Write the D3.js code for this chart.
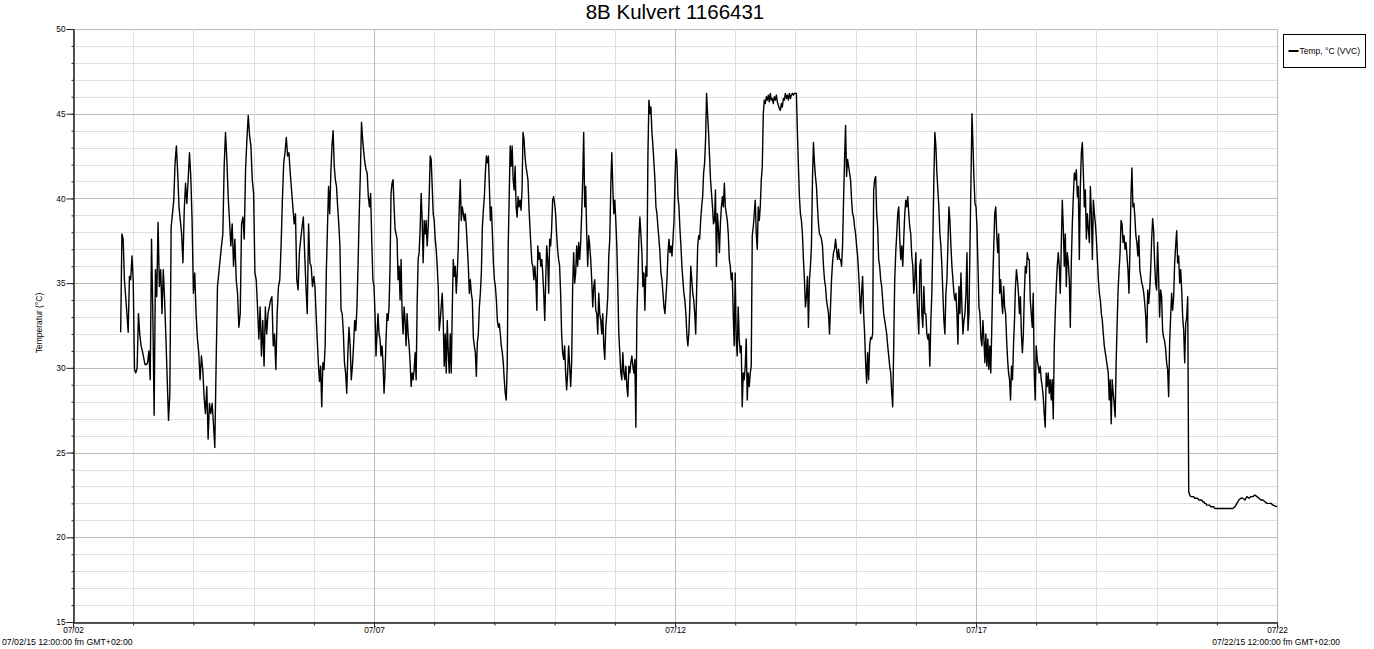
<!DOCTYPE html>
<html>
<head>
<meta charset="utf-8">
<script src="https://cdn.jsdelivr.net/npm/d3@7"></script>
<style>
  body { margin: 0; background: #fff; }
  svg { display: block; }
</style>
</head>
<body>
<div id="chart"></div>
<script>
// readings per day, spread evenly over each day (07/02 starts in the evening)
var startHour = 19;
var jul02 = [32.1, 37.9, 37.6, 35.2, 34.2, 33.2, 32.1, 35.4, 35.2, 36.6];
var jul03 = [35.2, 29.9, 29.7, 30.0, 33.2, 32.0, 31.3, 31.0, 30.6, 30.2, 30.2, 30.3, 31.0, 29.3, 37.6, 33.2, 27.2, 35.8, 34.2, 38.6, 34.8, 35.8, 33.2, 35.8, 34.0, 31.8, 29.3, 26.9, 28.5, 38.3, 39.1, 39.9, 42.1, 43.1, 41.5, 39.5, 38.7, 37.9, 36.2, 39.3, 40.9, 39.7, 41.1, 42.7, 41.3, 38.7];
var jul04 = [34.4, 35.6, 33.2, 31.7, 30.9, 29.3, 30.7, 29.9, 28.3, 27.3, 28.9, 25.8, 27.9, 27.3, 27.9, 26.7, 25.3, 30.3, 34.8, 35.6, 36.4, 37.2, 37.9, 41.9, 43.9, 42.3, 40.1, 38.7, 37.2, 38.5, 36.0, 37.6, 35.2, 34.4, 32.4, 33.2, 38.5, 38.9, 37.6, 41.7, 43.5, 44.9, 43.7, 43.1, 41.1];
var jul05 = [40.3, 35.6, 35.2, 33.6, 31.7, 33.6, 30.7, 32.8, 30.1, 33.6, 32.0, 33.2, 33.6, 34.0, 34.2, 31.3, 32.0, 29.9, 33.2, 34.8, 35.2, 37.2, 39.9, 42.1, 42.7, 43.6, 42.5, 42.7, 41.5, 40.5, 39.5, 38.5, 39.1, 35.2, 34.6, 36.8, 37.6, 38.3, 38.9, 36.8, 34.8, 33.2, 38.5, 36.2, 36.0, 34.8];
var jul06 = [35.4, 34.8, 33.2, 31.7, 30.3, 29.2, 30.1, 27.7, 30.3, 29.9, 31.3, 35.6, 38.2, 40.7, 39.1, 41.5, 43.1, 44.0, 41.9, 41.1, 40.7, 39.5, 38.5, 37.2, 33.4, 33.2, 32.1, 30.3, 29.7, 28.5, 30.9, 32.4, 31.3, 29.3, 30.1, 31.3, 32.8, 32.2, 33.6, 36.2, 39.1, 41.5, 44.5, 43.5, 42.7, 42.1, 41.7, 41.5, 40.1, 39.5, 40.3, 37.6, 35.2];
var jul07 = [34.8, 33.2, 30.7, 32.0, 33.2, 32.0, 31.7, 30.7, 31.3, 30.3, 28.5, 29.7, 31.7, 33.2, 32.8, 33.6, 36.0, 40.3, 40.9, 41.1, 39.5, 38.2, 37.9, 37.6, 35.2, 36.0, 34.0, 36.4, 33.2, 32.0, 33.6, 32.8, 31.3, 33.2, 32.0, 31.3, 30.3, 28.9, 29.7, 29.3, 29.9, 30.9, 29.3, 33.8, 36.4, 36.8, 38.2, 40.3, 38.7, 36.2, 38.7, 37.9, 38.7, 37.2, 38.3, 40.1, 42.5, 42.3, 40.7, 39.1];
var jul08 = [38.7, 37.6, 37.0, 36.0, 34.8, 32.2, 32.8, 33.6, 34.4, 32.8, 30.1, 32.0, 29.7, 32.8, 30.9, 29.7, 32.0, 29.7, 33.4, 36.4, 35.4, 36.0, 34.4, 35.6, 37.2, 39.5, 41.1, 38.7, 39.5, 39.1, 38.7, 39.1, 38.3, 37.2, 36.0, 34.4, 35.2, 34.4, 34.0, 31.8, 31.3, 30.9, 29.5, 31.5, 32.0, 33.6, 34.4, 35.6, 38.3, 39.3, 40.1, 41.5, 42.5, 42.1, 42.5, 40.7, 38.7, 39.5, 37.9, 36.2];
var jul09 = [35.2, 34.8, 34.0, 32.8, 32.4, 32.6, 32.0, 31.3, 30.9, 30.3, 29.3, 28.5, 28.1, 30.1, 37.2, 40.1, 43.1, 41.9, 43.1, 41.1, 40.5, 41.9, 39.5, 38.9, 40.1, 39.5, 39.9, 39.3, 40.5, 43.9, 43.5, 42.5, 41.9, 41.5, 41.1, 39.5, 38.3, 37.2, 36.2, 36.0, 35.2, 36.0, 35.2, 33.4, 37.2, 36.4, 36.8, 36.0, 36.4, 35.6, 34.4, 32.8, 35.2, 37.2, 36.4, 34.4, 37.6, 37.2, 38.2, 39.9, 40.1];
var jul10 = [39.7, 39.1, 37.9, 37.0, 36.4, 36.0, 34.4, 32.0, 30.9, 30.5, 31.3, 29.7, 28.7, 29.7, 31.3, 30.1, 28.9, 30.3, 34.8, 36.8, 35.0, 35.6, 37.2, 36.0, 37.4, 36.4, 37.4, 39.1, 41.1, 43.9, 39.5, 40.7, 37.9, 36.0, 37.8, 37.2, 36.4, 35.2, 33.6, 34.8, 35.2, 33.4, 33.2, 32.0, 34.4, 33.2, 32.8, 32.0, 33.2, 31.3, 30.5, 32.4, 33.2, 34.2, 36.6, 37.6, 40.7, 42.7, 40.7, 39.1];
var jul11 = [39.9, 38.7, 37.2, 34.8, 32.0, 30.9, 29.7, 29.3, 30.9, 29.7, 29.3, 30.1, 28.9, 28.3, 30.1, 29.7, 30.3, 30.7, 30.1, 29.7, 30.5, 26.5, 33.0, 35.2, 37.6, 38.9, 37.9, 36.8, 34.8, 35.6, 33.4, 36.0, 35.4, 42.5, 45.8, 45.0, 45.4, 43.9, 43.1, 42.1, 41.1, 39.5, 39.1, 38.3, 37.6, 36.8, 35.6, 35.2, 34.4, 33.6, 33.2, 34.2, 35.2, 36.8, 37.6, 36.8, 37.2, 36.6, 37.6, 38.7];
var jul12 = [41.1, 42.9, 42.1, 40.1, 39.5, 38.2, 37.2, 36.0, 35.2, 34.4, 34.0, 33.2, 32.0, 31.3, 32.0, 33.6, 36.0, 35.2, 34.4, 34.0, 33.2, 32.0, 34.8, 37.2, 37.8, 37.6, 38.7, 39.5, 40.1, 41.5, 42.1, 43.5, 46.2, 45.0, 43.9, 42.5, 41.1, 40.3, 39.5, 38.5, 38.7, 40.5, 36.0, 39.1, 38.2, 36.8, 38.5, 39.5, 40.1, 39.5, 40.9, 39.5, 39.1, 38.7, 37.9, 36.4, 36.0, 35.2, 35.6, 33.2, 31.3];
var jul13 = [35.6, 31.7, 30.7, 33.6, 31.7, 30.9, 31.3, 27.7, 29.7, 29.3, 30.1, 31.7, 28.1, 29.7, 28.9, 29.7, 30.1, 37.8, 38.3, 39.1, 39.9, 37.9, 37.0, 39.5, 38.7, 39.5, 41.1, 41.9, 45.0, 45.8, 45.6, 46.0, 45.8, 46.1, 45.7, 46.2, 45.8, 45.9, 45.6, 46.0, 45.8, 46.1, 45.7, 45.5, 45.3, 45.2, 45.6, 45.4, 45.9, 45.8, 46.2, 45.9, 46.1, 45.8, 46.2, 45.9, 46.1, 46.2, 46.1, 46.2];
var jul14 = [46.2, 46.2, 43.9, 41.9, 40.1, 39.1, 38.7, 37.9, 36.4, 35.2, 33.6, 34.2, 35.4, 32.4, 35.2, 36.0, 37.2, 41.1, 43.3, 42.1, 41.3, 40.7, 39.5, 38.5, 37.9, 37.8, 37.6, 37.2, 36.0, 35.2, 34.8, 34.0, 33.6, 33.2, 32.0, 33.6, 35.2, 36.2, 36.8, 37.0, 37.6, 37.0, 36.4, 37.0, 36.4, 36.4, 36.0, 37.2, 39.9, 42.3, 44.3, 41.3, 42.3, 41.9, 41.5, 41.1, 39.9, 39.1, 38.9, 38.3];
var jul15 = [37.9, 37.2, 36.6, 35.6, 34.4, 33.2, 34.4, 35.4, 33.2, 32.0, 30.3, 29.1, 30.9, 29.3, 31.3, 31.8, 31.7, 32.0, 40.5, 41.1, 41.3, 39.1, 38.3, 36.4, 36.0, 35.2, 34.8, 34.0, 33.2, 32.8, 32.4, 32.0, 31.3, 30.7, 30.1, 29.7, 28.5, 27.7, 31.3, 35.2, 36.8, 37.9, 39.1, 39.5, 37.6, 36.4, 37.2, 36.0, 37.6, 39.1, 39.9, 39.5, 40.1, 39.1, 38.3, 37.9, 36.6, 36.0, 34.4, 35.2];
var jul16 = [36.8, 34.4, 33.2, 32.0, 36.0, 36.4, 33.2, 32.4, 34.8, 33.2, 33.2, 32.0, 31.7, 32.0, 30.1, 32.8, 34.4, 37.6, 41.1, 43.9, 43.1, 41.5, 40.5, 39.5, 37.9, 37.2, 36.0, 34.4, 32.8, 32.0, 34.4, 35.2, 37.2, 39.5, 38.7, 37.2, 36.0, 35.2, 34.4, 34.0, 34.4, 33.2, 31.4, 34.8, 33.2, 35.6, 33.6, 32.0, 32.8, 33.2, 34.4, 36.8, 32.2, 33.2, 37.2, 41.1, 45.0, 43.1, 41.1, 39.7];
var jul17 = [39.5, 38.3, 36.0, 33.6, 33.2, 31.7, 31.3, 32.8, 31.7, 30.3, 32.0, 30.1, 31.7, 29.9, 31.3, 29.7, 32.4, 35.2, 37.2, 39.1, 39.5, 37.9, 36.8, 37.9, 34.4, 35.2, 34.0, 33.2, 34.8, 33.6, 33.2, 31.7, 30.5, 29.7, 29.3, 28.1, 30.1, 29.3, 31.3, 32.8, 34.8, 35.8, 35.2, 34.4, 33.2, 34.2, 32.0, 30.9, 32.0, 34.4, 36.0, 35.6, 36.8, 36.4, 36.4, 34.0, 33.2, 32.4, 34.4, 29.7, 28.1];
var jul18 = [31.3, 30.5, 30.1, 29.7, 30.1, 29.3, 28.9, 28.3, 27.3, 26.5, 29.7, 28.9, 29.7, 28.5, 29.3, 28.1, 29.3, 27.0, 31.3, 33.2, 34.8, 36.0, 36.8, 36.0, 34.4, 37.2, 39.9, 38.3, 36.0, 37.9, 34.8, 36.8, 36.2, 35.2, 32.4, 36.2, 38.5, 40.1, 41.5, 41.1, 41.7, 40.1, 40.7, 36.4, 40.7, 42.7, 43.3, 41.5, 39.5, 40.5, 37.6, 39.1, 38.2, 37.4, 40.7, 39.1, 36.4, 39.9, 39.1, 38.5];
var jul19 = [37.6, 36.4, 35.2, 34.4, 34.0, 33.2, 32.8, 32.0, 31.3, 30.9, 30.5, 30.1, 29.7, 28.1, 29.3, 26.7, 29.3, 28.5, 27.9, 27.1, 30.3, 32.6, 34.6, 35.8, 36.8, 38.7, 38.5, 37.4, 37.8, 37.0, 37.4, 36.6, 35.8, 34.4, 37.0, 40.1, 41.8, 39.5, 39.7, 38.9, 37.8, 37.4, 36.6, 37.8, 35.8, 35.4, 35.0, 34.8, 34.4, 33.8, 33.0, 31.5, 34.6, 33.8, 34.6, 35.8, 37.6, 38.8, 38.1, 36.2, 35.0];
var jul20 = [34.6, 37.4, 35.4, 33.0, 34.6, 34.2, 32.2, 31.8, 31.6, 31.1, 30.3, 29.9, 28.3, 31.5, 33.0, 34.4, 33.4, 34.2, 36.2, 37.2, 38.1, 36.2, 36.6, 35.0, 35.8, 34.6, 33.0, 32.2, 30.3, 32.6, 33.0, 34.2, 22.7, 22.5, 22.4, 22.4, 22.4, 22.4, 22.3, 22.3, 22.3, 22.3, 22.2, 22.2, 22.2, 22.2, 22.1, 22.1, 22.0, 22.0, 21.9, 21.9, 21.9, 21.9, 21.8, 21.8, 21.8, 21.8, 21.7, 21.7];
var jul21 = [21.7, 21.7, 21.7, 21.7, 21.7, 21.7, 21.7, 21.7, 21.7, 21.8, 22.0, 22.2, 22.3, 22.3, 22.2, 22.4, 22.3, 22.4, 22.4, 22.5, 22.4, 22.3, 22.2, 22.2, 22.1, 22.0, 22.0, 22.0, 21.9, 21.85];
var jul22 = [21.8];

var dailyTemps = [jul02, jul03, jul04, jul05, jul06, jul07, jul08, jul09, jul10, jul11,
    jul12, jul13, jul14, jul15, jul16, jul17, jul18, jul19, jul20, jul21, jul22];

var yMajorTicks = [15, 20, 25, 30, 35, 40, 45, 50];

// layout (window.top is read-only, so plot* names)
var svgWidth = 1374, svgHeight = 649;
var plotLeft = 73, plotRight = 1277, plotTop = 29, plotBottom = 622;
var font = "Arial, 'Liberation Sans', sans-serif";

// flatten the days into timestamped points
var points = [];
dailyTemps.forEach(function(vals, k) {
    var dayStart = new Date(2015, 6, 2 + k);
    var from = k === 0 ? d3.timeHour.offset(dayStart, startHour) : dayStart;
    var to = new Date(2015, 6, 3 + k);
    vals.forEach(function(v, i) {
        points.push({ t: new Date(+from + (to - from) * i / vals.length), v: v });
    });
});

var x = d3.scaleTime()
    .domain([new Date(2015, 6, 2), new Date(2015, 6, 22)])
    .range([plotLeft, plotRight]);
var y = d3.scaleLinear().domain([15, 50]).range([plotBottom, plotTop]);

var svg = d3.select('#chart').append('svg')
    .attr('width', svgWidth).attr('height', svgHeight)
    .style('font-family', font);

var days = d3.timeDay.range(new Date(2015, 6, 2), new Date(2015, 6, 23));
var isMajorDay = function(d) { return Math.round((d - days[0]) / 864e5) % 5 === 0; };
var yMinor = d3.range(15, 51);

// grid
svg.append('g').selectAll('line')
    .data(yMinor).enter().append('line')
    .attr('x1', plotLeft).attr('x2', plotRight)
    .attr('y1', function(d) { return Math.round(y(d)) + 0.5; })
    .attr('y2', function(d) { return Math.round(y(d)) + 0.5; })
    .attr('stroke', function(d) { return d % 5 === 0 ? '#bcbcbc' : '#dfdfdf'; })
    .attr('stroke-width', 1);

svg.append('g').selectAll('line')
    .data(days).enter().append('line')
    .attr('x1', function(d) { return Math.round(x(d)) + 0.5; })
    .attr('x2', function(d) { return Math.round(x(d)) + 0.5; })
    .attr('y1', plotTop).attr('y2', plotBottom)
    .attr('stroke', function(d) { return isMajorDay(d) ? '#bcbcbc' : '#dfdfdf'; })
    .attr('stroke-width', 1);

// y axis: long ticks every 5, short ticks every degree
svg.append('g')
    .attr('transform', 'translate(' + (plotLeft + 0.5) + ',0)')
    .call(d3.axisLeft(y).tickValues(yMinor).tickSize(2).tickFormat(''));
svg.append('g')
    .attr('transform', 'translate(' + (plotLeft + 0.5) + ',0)')
    .call(d3.axisLeft(y).tickValues(yMajorTicks).tickSize(7).tickPadding(1).tickFormat(d3.format('d')));

// x axis: short ticks each day, longer ones every 5 days
svg.append('g')
    .attr('transform', 'translate(0,' + (plotBottom + 0.5) + ')')
    .call(d3.axisBottom(x).tickValues(days).tickSize(3).tickFormat(''));
svg.append('g')
    .attr('transform', 'translate(0,' + (plotBottom + 0.5) + ')')
    .call(d3.axisBottom(x).tickValues(days.filter(isMajorDay)).tickSize(5).tickPadding(0)
        .tickFormat(d3.timeFormat('%m/%d')));

svg.selectAll('.domain').attr('stroke', '#222');
svg.selectAll('.tick line').attr('stroke', '#222');
svg.selectAll('.tick text')
    .attr('fill', '#000')
    .attr('font-size', '8.3px')
    .attr('font-family', font);

// full date stamps under the axis ends
svg.append('text')
    .attr('x', 2).attr('y', 645)
    .attr('font-size', '8.7px').attr('fill', '#000')
    .text('07/02/15 12:00:00 fm GMT+02:00');
svg.append('text')
    .attr('x', 1340).attr('y', 645)
    .attr('text-anchor', 'end')
    .attr('font-size', '8.5px').attr('fill', '#000')
    .text('07/22/15 12:00:00 fm GMT+02:00');

// title and axis label
svg.append('text')
    .attr('x', 675).attr('y', 19)
    .attr('text-anchor', 'middle')
    .attr('font-size', '20.5px').attr('fill', '#000')
    .text('8B Kulvert 1166431');

svg.append('text')
    .attr('transform', 'translate(42,323) rotate(-90)')
    .attr('text-anchor', 'middle')
    .attr('font-size', '8.5px').attr('fill', '#000')
    .text('Temperatur (°C)');

// temperature line
var line = d3.line()
    .x(function(d) { return x(d.t); })
    .y(function(d) { return y(d.v); });

svg.append('path')
    .datum(points)
    .attr('fill', 'none')
    .attr('stroke', '#000')
    .attr('stroke-width', 1.4)
    .attr('stroke-linejoin', 'round')
    .attr('d', line);

// legend
var legend = svg.append('g').attr('transform', 'translate(1283.5,34.5)');
legend.append('rect')
    .attr('width', 82).attr('height', 33)
    .attr('fill', '#fff').attr('stroke', '#000').attr('stroke-width', 1);
legend.append('line')
    .attr('x1', 5).attr('x2', 15).attr('y1', 16.5).attr('y2', 16.5)
    .attr('stroke', '#000').attr('stroke-width', 2);
legend.append('text')
    .attr('x', 16).attr('y', 19.5)
    .attr('font-size', '8.5px').attr('fill', '#000')
    .text('Temp, °C (VVC)');
</script>
</body>
</html>
